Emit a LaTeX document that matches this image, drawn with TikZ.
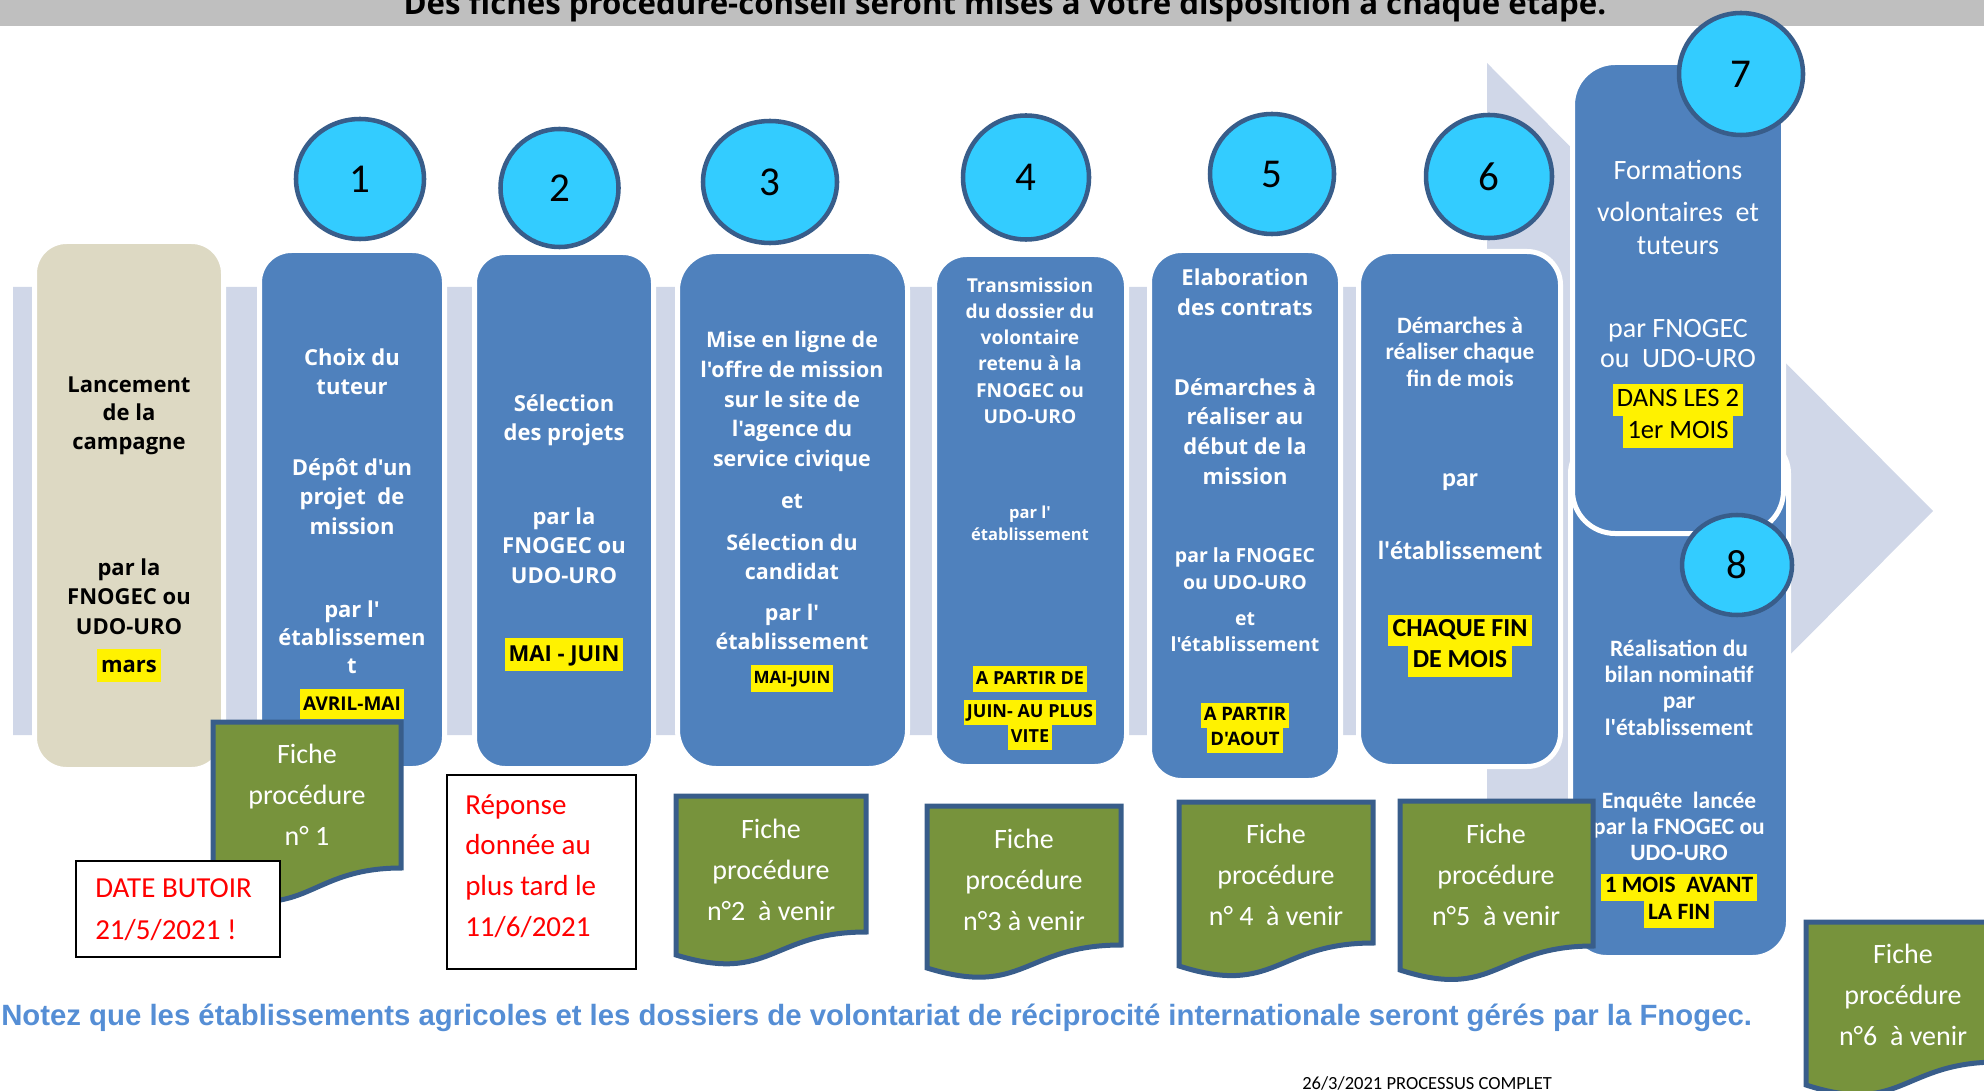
\documentclass[tikz,border=0pt]{standalone}
\usepackage{fontspec}
\setmainfont{Carlito}[Ligatures=TeXOff]
\newfontfamily\osans{Open Sans}[Ligatures=TeXOff]
\newfontfamily\arialb{Liberation Sans}[Ligatures=TeXOff]
\definecolor{lav}{RGB}{208,215,232}
\definecolor{stepblue}{RGB}{79,129,189}
\definecolor{beige}{RGB}{221,217,195}
\definecolor{cyanball}{RGB}{51,204,255}
\definecolor{navy}{RGB}{56,93,138}
\definecolor{fichegreen}{RGB}{119,147,60}
\definecolor{noteblue}{RGB}{85,142,213}
\definecolor{bannergray}{RGB}{191,191,191}
\newcommand\hl[1]{{\setlength\fboxsep{0pt}\colorbox{yellow}{\color{black}\strut\,#1\,}}}
\tikzset{
  stepbox/.style={fill=stepblue, draw=white, line width=3.75pt},
  ball/.style={fill=cyanball, draw=navy, line width=3.4pt},
  fiche/.style={fill=fichegreen, draw=navy, line width=3.75pt},
  redbox/.style={fill=white, draw=black, line width=1.5pt},
  os/.style 2 args={align=center, text=white, inner sep=0pt, font=\osans\bfseries\fontsize{#1}{#2}\selectfont},
  cb/.style 2 args={align=center, text=white, inner sep=0pt, font=\bfseries\fontsize{#1}{#2}\selectfont},
  cr/.style 2 args={align=center, text=white, inner sep=0pt, font=\fontsize{#1}{#2}\selectfont},
  num/.style={text=black, font=\fontsize{30.75}{36}\selectfont},
  redtxt/.style 2 args={anchor=west, align=left, inner sep=0pt, text=red, font=\fontsize{#1}{#2}\selectfont}
}
\begin{document}
\begin{tikzpicture}[x=0.75pt,y=0.75pt,yscale=-1,xscale=1]
\useasboundingbox (0,0) rectangle (1984,1091);
\clip (0,0) rectangle (1984,1091);

%Banner
\fill[bannergray] (0,0) rectangle (1984,26);
\draw (1005,15) node[anchor=base, inner sep=0pt, font=\osans\bfseries\fontsize{23.4}{28}\selectfont] (titre) {Des fiches procédure-conseil seront mises à votre disposition à chaque étape.};

%Shape: big arrow
\fill[lav] (13,287) -- (1487,287) -- (1487,63) -- (1933,511) -- (1487,959) -- (1487,735) -- (13,735) -- cycle;

%Shape: Rounded Rectangles
\draw[stepbox, fill=beige, rounded corners=24pt] (34.5,241.5) rectangle (223.5,769.5);
\draw[stepbox, rounded corners=24pt] (259.5,250.5) rectangle (444.5,768.5);
\draw[stepbox, rounded corners=23pt] (474.5,252.5) rectangle (653.5,768.5);
\draw[stepbox, rounded corners=29pt] (677.5,251.5) rectangle (907.5,768.5);
\draw[stepbox, rounded corners=24pt] (934.5,254.5) rectangle (1126.5,766.5);
\draw[stepbox, rounded corners=24pt] (1149.5,250.5) rectangle (1340.5,780.5);
\draw[stepbox, rounded corners=25pt] (1358.5,251.5) rectangle (1560.5,766.5);
\draw[stepbox, rounded corners=27pt] (1570.5,437.5) rectangle (1788.5,957.5);
\draw[stepbox, rounded corners=32pt] (1572.5,62.5) rectangle (1783.5,533.5);

%Shape: Ellipses
\draw[ball] (360,179) ellipse [x radius=64, y radius=60];
\draw[ball] (559.5,188) ellipse [x radius=59, y radius=59];
\draw[ball] (770,182) ellipse [x radius=67, y radius=61];
\draw[ball] (1026,177.5) ellipse [x radius=63, y radius=62];
\draw[ball] (1272,174) ellipse [x radius=62, y radius=60];
\draw[ball] (1489,176.5) ellipse [x radius=63, y radius=61.5];
\draw[ball] (1741,74) ellipse [x radius=62, y radius=61];
\draw[ball] (1737,565) ellipse [x radius=55, y radius=50];
\draw (360,179) node[num] (n1) {1};
\draw (559.5,188) node[num] (n2) {2};
\draw (770,182) node[num] (n3) {3};
\draw (1026,177.5) node[num] (n4) {4};
\draw (1272,174) node[num] (n5) {5};
\draw (1489,176.5) node[num] (n6) {6};
\draw (1741,74) node[num] (n7) {7};
\draw (1737,565) node[num] (n8) {8};

% Text Node
\draw (129,415.5) node[os={16.5}{21.4}, text=black] (t0a) {Lancement\\de la\\campagne};
\draw (129,596.5) node[os={16.5}{22.1}, text=black] (t0b) {par la\\FNOGEC ou\\UDO-URO};
\draw (129,665.5) node[os={16.5}{24.5}] (t0c) {\hl{mars}};
% Text Node
\draw (352,371.5) node[os={16.5}{21.75}] (t1a) {Choix du\\tuteur};
\draw (352,496.5) node[os={16.5}{22.1}] (t1b) {Dépôt d'un\\projet~ de\\mission};
\draw (352,637) node[os={16.5}{21}] (t1c) {par l'\\établissemen\\t};
\draw (352,704) node[os={14.25}{22.5}] (t1d) {\hl{AVRIL-MAI}};
% Text Node
\draw (564,420.5) node[os={16.5}{21.75}] (t2a) {Sélection\\des projets};
\draw (564,545.5) node[os={16.5}{22.1}] (t2b) {par la\\FNOGEC ou\\UDO-URO};
\draw (564,654.5) node[os={16.5}{24.75}] (t2c) {\hl{MAI - JUIN}};
% Text Node
\draw (792,401.5) node[os={16.1}{22.3}] (t3a) {Mise en ligne de\\l'offre de mission\\sur le site de\\l'agence du\\service civique};
\draw (792,501) node[os={16.1}{22.3}] (t3b) {et};
\draw (792,556.5) node[os={16.1}{21.75}] (t3c) {Sélection du\\candidat};
\draw (792,626.5) node[os={16.1}{21.75}] (t3d) {par l'\\établissement};
\draw (792,678.5) node[os={12.75}{20.25}] (t3e) {\hl{MAI-JUIN}};
% Text Node
\draw (1030,350.5) node[os={14.4}{19.65}] (t4a) {Transmission\\du dossier du\\volontaire\\retenu à la\\FNOGEC ou\\UDO-URO};
\draw (1030,523) node[os={12.4}{16.5}] (t4b) {par l'\\établissement};
\draw (1030,679) node[os={13.5}{19.5}] (t4c) {\hl{A PARTIR DE}};
\draw (1030,725) node[os={13.5}{18.75}] (t4d) {\hl{JUIN- AU PLUS}\\\hl{VITE}};
% Text Node
\draw (1245,292) node[os={16.5}{22.5}] (t5a) {Elaboration\\des contrats};
\draw (1245,431.5) node[os={16.5}{22.3}] (t5b) {Démarches à\\réaliser au\\début de la\\mission};
\draw (1245,568.5) node[os={14.6}{20.25}] (t5c) {par la FNOGEC\\ou UDO-URO};
\draw (1245,632) node[os={14.6}{19.5}] (t5d) {et\\l'établissement};
\draw (1245,727.5) node[os={13.9}{18.75}] (t5e) {\hl{A PARTIR}\\\hl{D'AOUT}};
% Text Node
\draw (1460,351.5) node[cb={17.6}{19.9}] (t6a) {Démarches à\\réaliser chaque\\fin de mois};
\draw (1460,482) node[cb={19.5}{24}] (t6b) {par};
\draw (1460,550) node[cb={19.5}{24}] (t6c) {l'établissement};
\draw (1460,646) node[cb={19.5}{23.25}] (t6d) {\hl{CHAQUE FIN}\\\hl{DE MOIS}};
% Text Node
\draw (1678,170) node[cr={21}{24.75}] (t7a) {Formations};
\draw (1678,228.5) node[cr={21}{24.75}] (t7b) {volontaires~ et\\tuteurs};
\draw (1678,344) node[cr={21}{22.5}] (t7c) {par FNOGEC\\ou~ UDO-URO};
\draw (1678,416) node[cr={19.9}{24}] (t7d) {\hl{DANS LES 2}\\\hl{1er MOIS}};
% Text Node
\draw (1679,687.5) node[cb={17.6}{19.7}] (t8a) {Réalisation du\\bilan nominatif\\par\\l'établissement};
\draw (1679,826) node[cb={17.6}{19.5}] (t8b) {Enquête~ lancée\\par la FNOGEC ou\\UDO-URO};
\draw (1679,901) node[cb={17.6}{20.25}] (t8c) {\hl{1 MOIS~ AVANT}\\\hl{LA FIN}};

%Shape: Documents
\draw[fiche] (213,722) -- (401,722) -- (401,868) .. controls (307,868) and (307,923) .. (213,892) -- cycle;
\draw[fiche] (676,796) -- (866,796) -- (866,932) .. controls (771,932) and (771,984) .. (676,955) -- cycle;
\draw[fiche] (927,806) -- (1121,806) -- (1121,945) .. controls (1024,945) and (1024,998) .. (927,968) -- cycle;
\draw[fiche] (1179,802) -- (1373,802) -- (1373,943) .. controls (1276,943) and (1276,997) .. (1179,966) -- cycle;
\draw[fiche] (1400,801) -- (1593,801) -- (1593,946) .. controls (1496,946) and (1496,1001) .. (1400,970) -- cycle;
\draw[fiche] (1806,922) -- (1998,922) -- (1998,1062) .. controls (1902,1062) and (1902,1116) .. (1806,1085) -- cycle;
% Text Node
\draw (307,795) node[cr={21}{30.75}] (f1) {Fiche\\procédure\\n° 1};
\draw (771,869.5) node[cr={21}{30.75}] (f2) {Fiche\\procédure\\n°2~ à venir};
\draw (1024,879.5) node[cr={21}{30.75}] (f3) {Fiche\\procédure\\n°3 à venir};
\draw (1276,875) node[cr={21}{30.75}] (f4) {Fiche\\procédure\\n° 4~ à venir};
\draw (1496,875) node[cr={21}{30.75}] (f5) {Fiche\\procédure\\n°5~ à venir};
\draw (1903,995) node[cr={21}{30.75}] (f6) {Fiche\\procédure\\n°6~ à venir};

%Shape: Rectangles
\draw[redbox] (76,861) rectangle (280,957);
\draw (95,910) node[redtxt={21.75}{31.5}] (butoir) {DATE BUTOIR\\21/5/2021 !};
\draw[redbox] (447,775) rectangle (636,969);
\draw (465,866) node[redtxt={21.75}{30.5}] (reponse) {Réponse\\donnée au\\plus tard le\\11/6/2021};

% Text Node
\draw (1,1018) node[anchor=west, inner sep=0pt, text=noteblue, font=\arialb\bfseries\fontsize{22}{26}\selectfont] (note) {Notez que les établissements agricoles et les dossiers de volontariat de réciprocité internationale seront gérés par la Fnogec.};
\draw (1302,1083) node[anchor=west, inner sep=0pt, font=\fontsize{13.9}{16}\selectfont] (date) {26/3/2021 PROCESSUS COMPLET};

\end{tikzpicture}
\end{document}
